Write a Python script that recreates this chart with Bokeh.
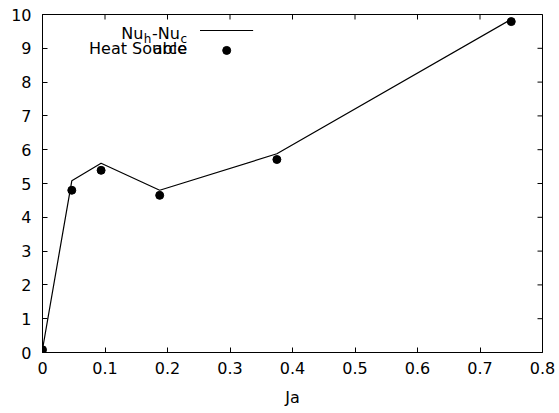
import math
from bokeh.plotting import figure
from bokeh.models import Range1d, FixedTicker, Label, Arrow
from bokeh.embed import file_html
from bokeh.resources import INLINE

# ---- data ----
ja = [0.0, 0.046875, 0.09375, 0.1875, 0.375, 0.75]
nu_diff = [0.09, 5.08, 5.6, 4.8, 5.88, 9.86]
heat_source = [0.08, 4.8, 5.39, 4.65, 5.71, 9.79]
x_ticks = [0.0, 0.1, 0.2, 0.3, 0.4, 0.5, 0.6, 0.7, 0.8]
x_tick_labels = ["0", "0.1", "0.2", "0.3", "0.4", "0.5", "0.6", "0.7", "0.8"]
y_ticks = [0, 1, 2, 3, 4, 5, 6, 7, 8, 9, 10]
x_label = "Ja"

FONT = "DejaVu Sans"
FS = "16px"

p = figure(width=559, height=413, output_backend="svg", toolbar_location=None,
           x_range=Range1d(x_ticks[0], x_ticks[-1]), y_range=Range1d(y_ticks[0], y_ticks[-1]),
           min_border_left=42, min_border_right=17, min_border_top=14, min_border_bottom=61)
p.background_fill_color = "white"
p.border_fill_color = "white"
p.outline_line_color = "black"
p.outline_line_width = 1
p.grid.visible = False

# bottom / left axes
for ax in (p.xaxis[0], p.yaxis[0]):
    ax.major_tick_in = 5
    ax.major_tick_out = 0
    ax.minor_tick_in = 0
    ax.minor_tick_out = 0
    ax.axis_line_color = "black"
    ax.major_tick_line_color = "black"
    ax.major_label_text_font = FONT
    ax.major_label_text_font_size = FS
    ax.major_label_text_color = "black"

p.xaxis[0].ticker = FixedTicker(ticks=x_ticks)
p.xaxis[0].major_label_overrides = {t: l for t, l in zip(x_ticks, x_tick_labels)}
p.xaxis[0].major_label_standoff = 9
p.xaxis[0].axis_label = x_label
p.xaxis[0].axis_label_text_font = FONT
p.xaxis[0].axis_label_text_font_size = FS
p.xaxis[0].axis_label_text_font_style = "normal"
p.xaxis[0].axis_label_text_color = "black"
p.xaxis[0].axis_label_standoff = 11
p.yaxis[0].ticker = FixedTicker(ticks=y_ticks)
p.yaxis[0].major_label_standoff = 11

# mirrored inward ticks on top / right (dash markers clipped by the frame edge)
p.scatter(x_ticks, [y_ticks[-1]] * len(x_ticks), marker="dash", angle=math.pi / 2,
          size=10, line_color="black", line_width=1)
p.scatter([x_ticks[-1]] * len(y_ticks), y_ticks, marker="dash",
          size=10, line_color="black", line_width=1)

# series
p.line(ja, nu_diff, line_color="black", line_width=1.2)
p.scatter(ja, heat_source, size=8, color="black")

# ---- legend (gnuplot style: text right-aligned, sample to the right) ----
LEG_TEXT_X = 0.2312
ROW1_Y = 9.45
ROW2_Y = 8.99
SAMPLE_X0, SAMPLE_X1, SAMPLE_LINE_Y = 0.252, 0.337, 9.527
SAMPLE_DOT_X, SAMPLE_DOT_Y = 0.2947, 8.937
LFS = 16
SFS = 12

def lab(text, x_off, y, y_off=0, size=LFS):
    p.add_layout(Label(x=LEG_TEXT_X, y=y, x_offset=x_off, y_offset=y_off, text=text,
                       text_align="right", text_baseline="alphabetic",
                       text_font=FONT, text_font_size=f"{size}px", text_color="black"))

# Nu_h - Nu_c built from pieces, right to left
w_c = 0.550 * SFS
w_mnu = (0.361 + 0.752 + 0.634) * LFS
w_h = 0.634 * SFS
lab("c", 0, ROW1_Y, -6, SFS)
lab("-Nu", -w_c - 0.5, ROW1_Y)
lab("h", -(w_c + w_mnu + 1), ROW1_Y, -6, SFS)
lab("Nu", -(w_c + w_mnu + w_h + 1.5), ROW1_Y)

lab("Heat Source", 0, ROW2_Y)
lab("able", 0, ROW2_Y)

p.add_layout(Arrow(start=None, end=None, x_start=SAMPLE_X0, y_start=SAMPLE_LINE_Y,
                   x_end=SAMPLE_X1, y_end=SAMPLE_LINE_Y, line_color="black", line_width=1.2))
p.scatter([SAMPLE_DOT_X], [SAMPLE_DOT_Y], size=8, color="black")

open("out.html", "w").write(file_html(p, INLINE))
